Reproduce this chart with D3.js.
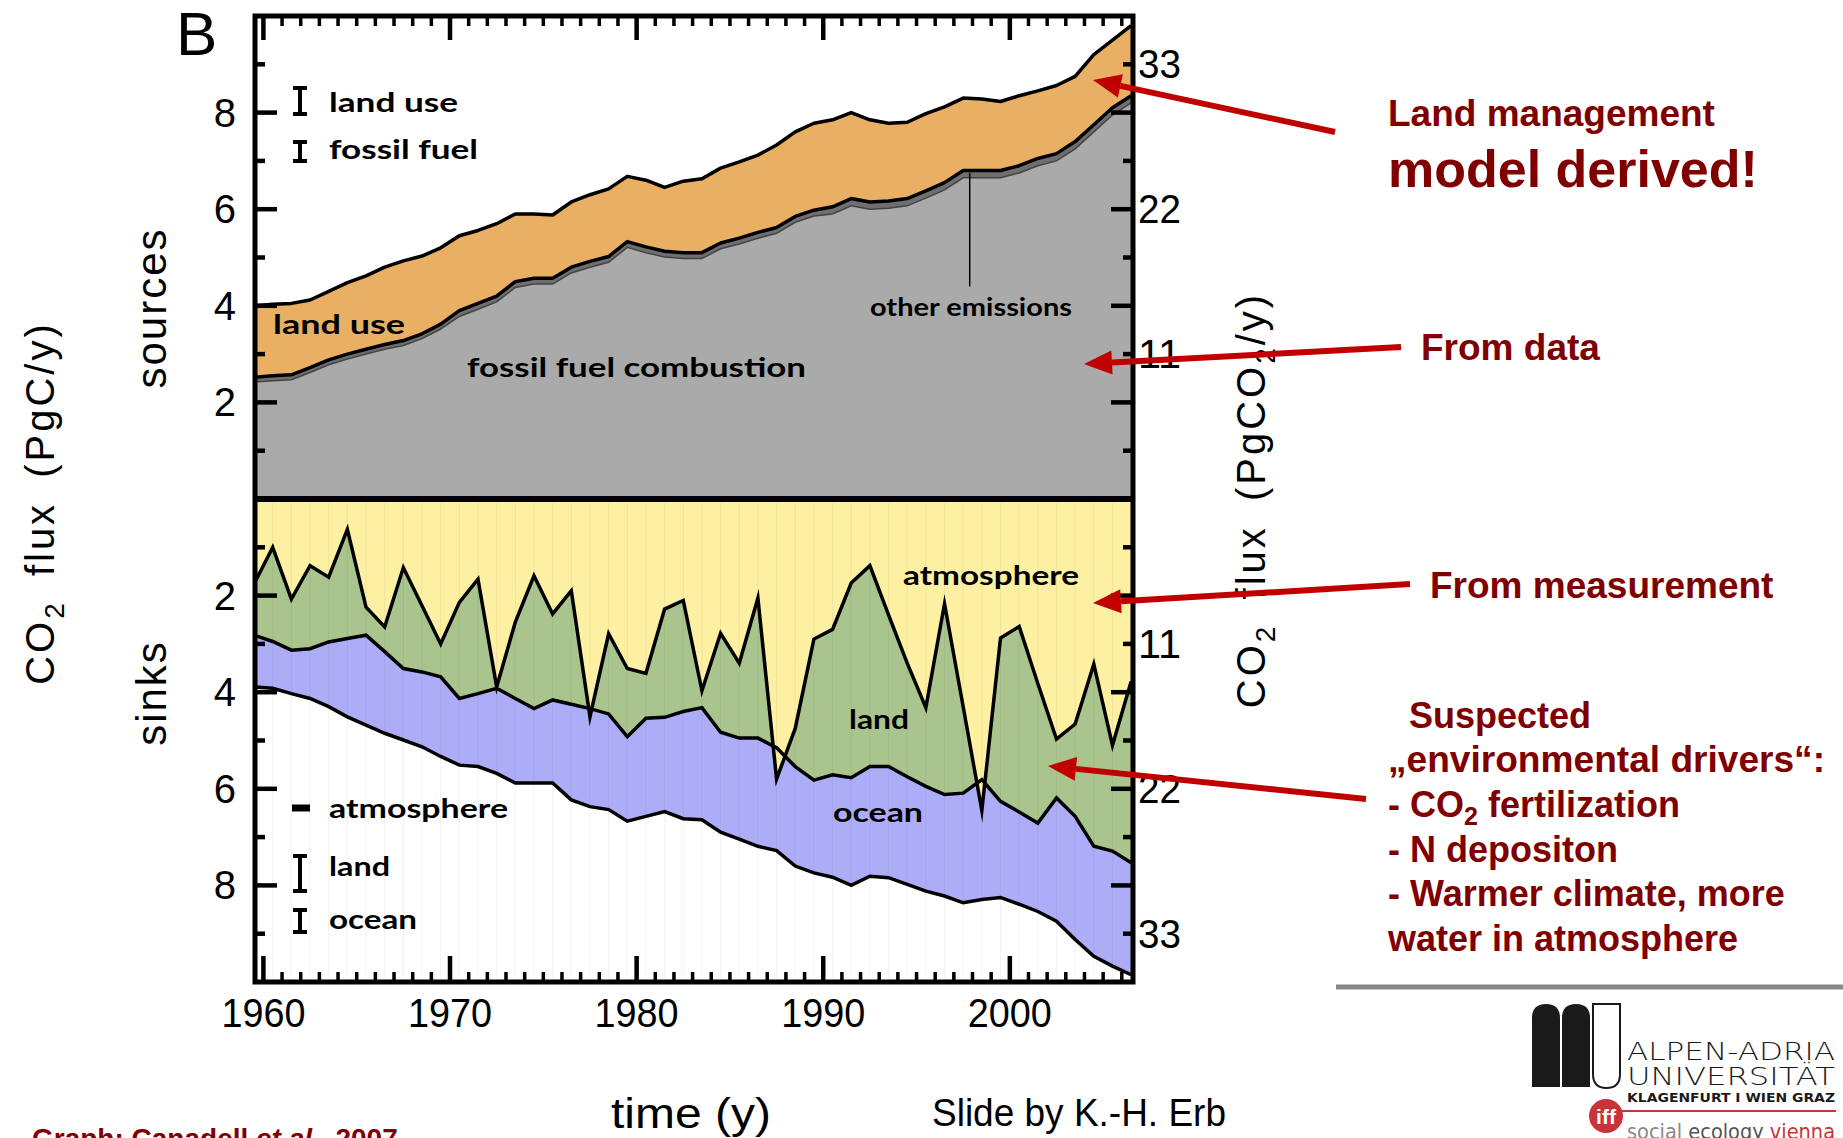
<!DOCTYPE html>
<html><head><meta charset="utf-8">
<script src="https://cdn.jsdelivr.net/npm/d3@7"></script>
<style>body{margin:0;background:#fff}svg{display:block}</style>
</head><body>
<svg id="c" width="1843" height="1138"></svg>
<script>
// ---------- data ----------
const years = [1959,1960,1961,1962,1963,1964,1965,1966,1967,1968,1969,1970,1971,1972,1973,1974,1975,1976,1977,1978,1979,1980,1981,1982,1983,1984,1985,1986,1987,1988,1989,1990,1991,1992,1993,1994,1995,1996,1997,1998,1999,2000,2001,2002,2003,2004,2005,2006];
// sources (PgC/y)
const fossilFuel = [2.42,2.45,2.47,2.62,2.78,2.90,3.00,3.10,3.18,3.32,3.52,3.78,3.93,4.08,4.38,4.45,4.45,4.68,4.80,4.90,5.21,5.10,5.01,4.98,4.98,5.18,5.28,5.40,5.50,5.73,5.86,5.90,6.07,6.00,6.02,6.07,6.23,6.40,6.65,6.65,6.65,6.75,6.90,7.00,7.25,7.60,7.95,8.20];
const otherEmissions = [0.10,0.10,0.10,0.10,0.10,0.10,0.10,0.10,0.10,0.10,0.10,0.12,0.12,0.12,0.12,0.12,0.12,0.12,0.12,0.12,0.12,0.12,0.12,0.12,0.12,0.12,0.12,0.12,0.12,0.12,0.12,0.15,0.15,0.15,0.15,0.15,0.15,0.15,0.15,0.15,0.15,0.15,0.15,0.15,0.15,0.15,0.15,0.15];
const landUse = [1.48,1.48,1.48,1.40,1.42,1.48,1.52,1.60,1.65,1.61,1.58,1.55,1.51,1.50,1.40,1.33,1.31,1.35,1.38,1.40,1.35,1.38,1.32,1.48,1.53,1.55,1.58,1.60,1.71,1.75,1.80,1.80,1.78,1.70,1.61,1.58,1.60,1.57,1.50,1.48,1.43,1.45,1.40,1.41,1.35,1.45,1.40,1.45];
// sinks (PgC/y)
const atmosphere = [1.76,1.00,2.07,1.38,1.62,0.63,2.24,2.65,1.42,2.21,3.00,2.14,1.66,3.89,2.55,1.59,2.38,1.90,4.51,2.79,3.51,3.61,2.28,2.10,3.97,2.78,3.40,2.05,5.80,4.75,2.90,2.70,1.74,1.38,2.40,3.40,4.32,2.17,4.30,6.45,2.88,2.64,3.82,4.97,4.66,3.42,5.10,3.78];
const landSink = [1.06,1.95,1.06,1.72,1.34,2.26,0.58,0.51,2.09,1.37,0.68,1.99,2.37,0.03,1.58,2.75,1.78,2.35,-0.17,1.66,1.41,0.93,2.24,2.30,0.35,2.05,1.55,2.90,-0.65,0.79,2.92,3.01,4.03,4.16,3.14,2.35,1.63,3.95,1.79,-0.64,3.38,3.84,2.89,1.22,1.91,3.77,2.19,3.75];
const oceanSink = [1.07,0.97,0.90,1.03,1.34,1.62,1.86,1.69,1.48,1.55,1.65,1.38,1.51,1.76,1.75,1.54,1.72,1.98,2.03,1.98,1.75,2.03,1.95,2.22,2.32,2.07,2.09,2.24,2.13,2.06,1.92,2.12,2.23,2.27,2.30,2.23,2.17,2.10,2.27,2.48,1.99,1.91,1.83,2.55,2.55,2.28,2.38,2.32];
// ticks
const xTickLabels = [1960,1970,1980,1990,2000];
const yTickValues = [1,2,3,4,5,6,7,8,9];
const yTickLabels = [2,4,6,8];
const rightTickLabels = [11,22,33]; // PgCO2/y
const CtoCO2 = 44/12;

// ---------- layout ----------
const svg = d3.select('#c');
const L=255,R=1133,T=16,M=499,B=982;
const x = d3.scaleLinear().domain([1959.55,2006.6]).range([L,R]);
const yTop = d3.scaleLinear().domain([0,10]).range([M,T]);
const yBot = d3.scaleLinear().domain([0,10]).range([M,B]);

const defs = svg.append('defs');
defs.append('clipPath').attr('id','clipTop').append('rect').attr('x',L).attr('y',T).attr('width',R-L).attr('height',M-T);
defs.append('clipPath').attr('id','clipBot').append('rect').attr('x',L).attr('y',M).attr('width',R-L).attr('height',B-M);

// ---------- top panel (sources) ----------
const srcRows = years.map((yr,i)=>({year:yr, fossil:fossilFuel[i], other:otherEmissions[i], landuse:landUse[i]}));
const srcStack = d3.stack().keys(['fossil','other','landuse'])(srcRows);
const gTop = svg.append('g').attr('clip-path','url(#clipTop)');
const srcColors = ['#aaaaaa','#6f6f6f','#e9af63'];
srcStack.forEach((s,k)=>{
  gTop.append('path').datum(s).attr('fill',srcColors[k])
    .attr('d', d3.area().x(d=>x(d.data.year+0.5)).y0(d=>yTop(d[0])).y1(d=>yTop(d[1])));
});
const lineTop = k => d3.line().x(d=>x(d.data.year+0.5)).y(d=>yTop(d[1]));
gTop.append('path').datum(srcStack[0]).attr('fill','none').attr('stroke','#444').attr('stroke-width',1.5).attr('d',lineTop(0));
gTop.append('path').datum(srcStack[1]).attr('fill','none').attr('stroke','#000').attr('stroke-width',3.5).attr('stroke-linejoin','round').attr('d',lineTop(1));
gTop.append('path').datum(srcStack[2]).attr('fill','none').attr('stroke','#000').attr('stroke-width',3.5).attr('stroke-linejoin','round').attr('d',lineTop(2));

// ---------- bottom panel (sinks) ----------
const sinkRows = years.map((yr,i)=>({year:yr, atmosphere:atmosphere[i], land:landSink[i], ocean:oceanSink[i]}));
const sinkStack = d3.stack().keys(['atmosphere','land','ocean'])(sinkRows);
const gBot = svg.append('g').attr('clip-path','url(#clipBot)');
const sinkColors = ['#fdf0a2','#aac48d','#adadf7'];
[2,1,0].forEach(k=>{
  gBot.append('path').datum(sinkStack[k]).attr('fill',sinkColors[k])
    .attr('d', d3.area().x(d=>x(d.data.year+0.5)).y0(yBot(0)).y1(d=>yBot(d[1])));
});
// faint vertical stripes
gBot.selectAll('line.stripe').data(years).enter().append('line')
  .attr('x1',d=>x(d+0.5)).attr('x2',d=>x(d+0.5)).attr('y1',M).attr('y2',B)
  .attr('stroke','#000').attr('stroke-opacity',0.05).attr('stroke-width',1);
[2,1,0].forEach(k=>{
  gBot.append('path').datum(sinkStack[k]).attr('fill','none').attr('stroke','#000').attr('stroke-width',3.5).attr('stroke-linejoin','miter').attr('stroke-miterlimit',8)
    .attr('d', d3.line().x(d=>x(d.data.year+0.5)).y(d=>yBot(d[1])));
});

// ---------- frame & ticks ----------
const ax = svg.append('g').attr('stroke','#000');
const tickYears = years.filter(y=>y>=1960);
tickYears.forEach(yr=>{
  const major = yr%10===0;
  ax.append('line').attr('x1',x(yr)).attr('x2',x(yr)).attr('y1',T).attr('y2',T+(major?24:10)).attr('stroke-width',major?4.5:3.5);
  ax.append('line').attr('x1',x(yr)).attr('x2',x(yr)).attr('y1',B).attr('y2',B-(major?26:10)).attr('stroke-width',major?4.5:3.5);
});
[yTop,yBot].forEach(sc=>{
  yTickValues.forEach(v=>{
    const major = v%2===0;
    ax.append('line').attr('x1',L).attr('x2',L+(major?22:10)).attr('y1',sc(v)).attr('y2',sc(v)).attr('stroke-width',4.5);
    ax.append('line').attr('x1',R).attr('x2',R-(major?22:10)).attr('y1',sc(v)).attr('y2',sc(v)).attr('stroke-width',4.5);
  });
});
svg.append('rect').attr('x',L).attr('y',T).attr('width',R-L).attr('height',B-T).attr('fill','none').attr('stroke','#000').attr('stroke-width',5);
svg.append('line').attr('x1',L).attr('x2',R).attr('y1',yTop(0)).attr('y2',yTop(0)).attr('stroke','#000').attr('stroke-width',6);

// tick labels
const tickFont = 'Liberation Sans, Arial, sans-serif';
svg.selectAll('text.xl').data(xTickLabels).enter().append('text')
  .attr('x',d=>x(d)).attr('y',1027).attr('text-anchor','middle')
  .attr('font-family',tickFont).attr('font-size',40).attr('textLength',84).attr('lengthAdjust','spacingAndGlyphs').text(d=>d);
[yTop,yBot].forEach(sc=>{
  yTickLabels.forEach(v=>{
    svg.append('text').attr('x',236).attr('y',sc(v)+14).attr('text-anchor','end')
      .attr('font-family',tickFont).attr('font-size',40).text(v);
  });
  rightTickLabels.forEach(v=>{
    svg.append('text').attr('x',1138).attr('y',sc(v/CtoCO2)+14).attr('text-anchor','start')
      .attr('font-family',tickFont).attr('font-size',40).attr('textLength',43).attr('lengthAdjust','spacingAndGlyphs').text(v);
  });
});

// axis titles
function co2Title(tx,ty,parts){
  const t = svg.append('text').attr('transform',`translate(${tx},${ty}) rotate(-90)`).attr('text-anchor','middle')
    .attr('font-family',tickFont).attr('font-size',40).attr('letter-spacing',3).attr('word-spacing',10);
  parts.forEach(p=>{
    if(p.sub){ t.append('tspan').attr('font-size',28).attr('dy',10).text(p.t); }
    else { t.append('tspan').attr('dy',p.after?-10:0).text(p.t); }
  });
}
co2Title(54,503,[{t:'CO'},{t:'2',sub:true},{t:' flux (PgC/y)',after:true}]);
co2Title(1265,500,[{t:'CO'},{t:'2',sub:true},{t:' flux (PgCO',after:true},{t:'2',sub:true},{t:'/y)',after:true}]);
svg.append('text').attr('transform','translate(166,308) rotate(-90)').attr('text-anchor','middle')
  .attr('font-family',tickFont).attr('font-size',42).attr('letter-spacing',2).text('sources');
svg.append('text').attr('transform','translate(166,693) rotate(-90)').attr('text-anchor','middle')
  .attr('font-family',tickFont).attr('font-size',42).attr('letter-spacing',2).text('sinks');
svg.append('text').attr('x',691).attr('y',1128).attr('text-anchor','middle')
  .attr('font-family',tickFont).attr('font-size',42).attr('textLength',160).attr('lengthAdjust','spacingAndGlyphs').text('time (y)');
svg.append('text').attr('x',176).attr('y',55).attr('font-family',tickFont).attr('font-size',62).text('B');

// ---------- in-chart labels ----------
const lblFont = 'Lato, DejaVu Sans, sans-serif';
function lbl(tx,ty,str,len,fs){
  svg.append('text').attr('x',tx).attr('y',ty).attr('font-family',lblFont).attr('font-weight',700)
    .attr('font-size',fs||27).attr('textLength',len).attr('lengthAdjust','spacingAndGlyphs').text(str);
}
lbl(329,112,'land use',129);
lbl(329,159,'fossil fuel',149);
lbl(273,334,'land use',132);
lbl(467,377,'fossil fuel combustion',339);
lbl(870,316,'other emissions',202,24);
lbl(903,585,'atmosphere',176);
lbl(849,729,'land',60);
lbl(833,822,'ocean',90);
lbl(329,818,'atmosphere',179);
lbl(329,876,'land',61);
lbl(329,929,'ocean',88);
// leader for other emissions
svg.append('line').attr('x1',x(1997.85)).attr('x2',x(1997.85)).attr('y1',yTop(6.75)).attr('y2',yTop(4.4)).attr('stroke','#000').attr('stroke-width',1.5);
// uncertainty symbols
function ibar(cx,y1,y2){
  const g = svg.append('g').attr('stroke','#000').attr('stroke-width',4);
  g.append('line').attr('x1',cx).attr('x2',cx).attr('y1',y1).attr('y2',y2);
  g.append('line').attr('x1',cx-7).attr('x2',cx+7).attr('y1',y1).attr('y2',y1);
  g.append('line').attr('x1',cx-7).attr('x2',cx+7).attr('y1',y2).attr('y2',y2);
}
ibar(300,88,114); ibar(300,142,161);
ibar(300,856,891); ibar(300,910,932);
svg.append('line').attr('x1',292).attr('x2',310).attr('y1',808).attr('y2',808).attr('stroke','#000').attr('stroke-width',7);

// ---------- annotations ----------
const red='#c00000', dred='#800000';
function arrow(x1,y1,x2,y2){
  const a = Math.atan2(y2-y1,x2-x1), hl=28, hw=12;
  const bx = x2-hl*Math.cos(a), by = y2-hl*Math.sin(a);
  svg.append('line').attr('x1',x1).attr('y1',y1).attr('x2',bx).attr('y2',by).attr('stroke',red).attr('stroke-width',6);
  const px=-Math.sin(a), py=Math.cos(a);
  svg.append('polygon').attr('fill',red).attr('points',[[x2,y2],[bx+px*hw,by+py*hw],[bx-px*hw,by-py*hw]].map(p=>p.join(',')).join(' '));
}
arrow(1335,132,1093,80);
arrow(1401,347,1084,364);
arrow(1410,584,1093,603);
arrow(1366,799,1048,766);
function note(tx,ty,str,fs){
  return svg.append('text').attr('x',tx).attr('y',ty).attr('font-family',tickFont).attr('font-weight',700)
    .attr('font-size',fs||37).attr('fill',dred).text(str);
}
note(1388,126,'Land management');
note(1388,187,'model derived!',52);
note(1421,360,'From data');
note(1430,598,'From measurement');
note(1409,728,'Suspected',36);
note(1388,772,'\u201Eenvironmental drivers\u201C:',36).attr('textLength',437).attr('lengthAdjust','spacingAndGlyphs');
const co2 = note(1388,817,'- CO',36);
co2.append('tspan').attr('font-size',25).attr('dy',8).text('2');
co2.append('tspan').attr('dy',-8).text(' fertilization');
note(1388,862,'- N depositon',36);
note(1388,906,'- Warmer climate, more',36);
note(1388,951,'water in atmosphere',36);

// footer
svg.append('line').attr('x1',1336).attr('x2',1843).attr('y1',987).attr('y2',987).attr('stroke','#888').attr('stroke-width',5);
svg.append('text').attr('x',932).attr('y',1126).attr('font-family',tickFont).attr('font-size',38)
  .attr('textLength',294).attr('lengthAdjust','spacingAndGlyphs').text('Slide by K.-H. Erb');
const cite = svg.append('text').attr('x',32).attr('y',1148).attr('font-family',tickFont).attr('font-weight',700).attr('font-size',28).attr('fill',dred);
cite.append('tspan').text('Graph: Canadell ');
cite.append('tspan').attr('font-style','italic').text('et al.');
cite.append('tspan').text(', 2007');

// logo
const lg = svg.append('g');
lg.append('path').attr('fill','#1a1a1a').attr('d','M1532,1087 L1532,1018 Q1532,1004 1546,1004 Q1560,1004 1560,1018 L1560,1087 Z');
lg.append('path').attr('fill','#1a1a1a').attr('d','M1562,1087 L1562,1018 Q1562,1004 1576,1004 Q1590,1004 1590,1018 L1590,1087 Z');
lg.append('path').attr('fill','none').attr('stroke','#1a1a1a').attr('stroke-width',2).attr('d','M1593,1004 L1620,1004 L1620,1074 Q1620,1088 1606.5,1088 Q1593,1088 1593,1074 Z');
const logoFont = 'DejaVu Sans, sans-serif';
lg.append('text').attr('x',1627).attr('y',1060).attr('font-family',logoFont).attr('font-weight',300).attr('font-size',25).attr('fill','#1a1a1a').attr('textLength',208).attr('lengthAdjust','spacingAndGlyphs').text('ALPEN-ADRIA');
lg.append('text').attr('x',1627).attr('y',1085).attr('font-family',logoFont).attr('font-weight',300).attr('font-size',25).attr('fill','#1a1a1a').attr('textLength',208).attr('lengthAdjust','spacingAndGlyphs').text('UNIVERSIT\u00C4T');
lg.append('text').attr('x',1627).attr('y',1102).attr('font-family',logoFont).attr('font-weight',700).attr('font-size',12).attr('fill','#1a1a1a').attr('textLength',208).attr('lengthAdjust','spacingAndGlyphs').text('KLAGENFURT I WIEN GRAZ');
lg.append('line').attr('x1',1618).attr('x2',1836).attr('y1',1111).attr('y2',1111).attr('stroke','#c8343a').attr('stroke-width',2);
lg.append('circle').attr('cx',1606).attr('cy',1116).attr('r',17).attr('fill','#c8343a');
lg.append('text').attr('x',1606).attr('y',1124).attr('text-anchor','middle').attr('font-family',tickFont).attr('font-weight',700).attr('font-size',21).attr('fill','#fff').text('iff');
const se = lg.append('text').attr('x',1627).attr('y',1139).attr('font-family',logoFont).attr('font-size',21).attr('textLength',208).attr('lengthAdjust','spacingAndGlyphs');
se.append('tspan').attr('fill','#888').text('social ');
se.append('tspan').attr('fill','#555').text('ecology ');
se.append('tspan').attr('fill','#c8343a').text('vienna');
</script>
</body></html>
